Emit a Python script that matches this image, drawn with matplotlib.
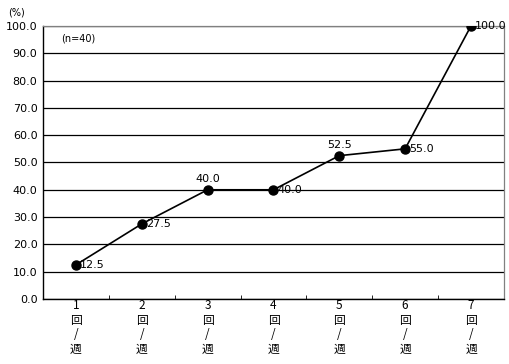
import matplotlib
matplotlib.use("Agg")
import matplotlib.pyplot as plt
from matplotlib.ticker import MultipleLocator, FixedLocator

plt.rcParams["font.family"] = ["Noto Sans CJK JP", "DejaVu Sans"]

categories = ["1\n回\n/\n週", "2\n回\n/\n週", "3\n回\n/\n週", "4\n回\n/\n週",
              "5\n回\n/\n週", "6\n回\n/\n週", "7\n回\n/\n週"]
values = [12.5, 27.5, 40.0, 40.0, 52.5, 55.0, 100.0]
label_above = [False, False, True, False, True, False, False]

fig = plt.figure(figsize=(5.10, 3.64), dpi=100)
ax = fig.add_axes([0.0843, 0.1786, 0.9037, 0.75])

x = list(range(len(values)))
ax.plot(x, values, color="black", lw=1.2, marker="o", ms=6.5, zorder=3)

for xi, v, above in zip(x, values, label_above):
    if above:
        ax.annotate(f"{v:.1f}", (xi, v), xytext=(0, 4), textcoords="offset points",
                    ha="center", va="bottom", fontsize=8, family="DejaVu Sans")
    else:
        ax.annotate(f"{v:.1f}", (xi, v), xytext=(3, 0), textcoords="offset points",
                    ha="left", va="center", fontsize=8, family="DejaVu Sans")

ax.set_xlim(-0.5, len(values) - 0.5)
ax.set_ylim(0, 100)
ax.yaxis.set_major_locator(MultipleLocator(10))
ax.yaxis.set_major_formatter(lambda v, p: f"{v:.1f}")
ax.grid(axis="y", color="black", lw=0.9)
ax.set_axisbelow(True)

ax.set_xticks(x)
ax.set_xticklabels(categories, fontsize=8.5, linespacing=1.17)
ax.tick_params(axis="x", length=0, pad=0)
ax.xaxis.set_minor_locator(FixedLocator([i + 0.5 for i in range(len(values) - 1)]))
ax.tick_params(axis="x", which="minor", direction="in", length=3, color="black")
ax.tick_params(axis="y", labelsize=8, length=0, pad=4)
for lbl in ax.get_yticklabels():
    lbl.set_family("DejaVu Sans")

for side in ["top", "right"]:
    ax.spines[side].set_color("#808080")
    ax.spines[side].set_linewidth(0.9)
for side in ["left", "bottom"]:
    ax.spines[side].set_color("black")
    ax.spines[side].set_linewidth(1.0)

fig.text(0.015, 0.965, "(%)", fontsize=7, ha="left", va="center", family="DejaVu Sans")
ax.text(0.04, 0.955, "(n=40)", transform=ax.transAxes, fontsize=7, ha="left", va="center",
        family="DejaVu Sans")

fig.savefig("out.png", dpi=100, facecolor="white")
